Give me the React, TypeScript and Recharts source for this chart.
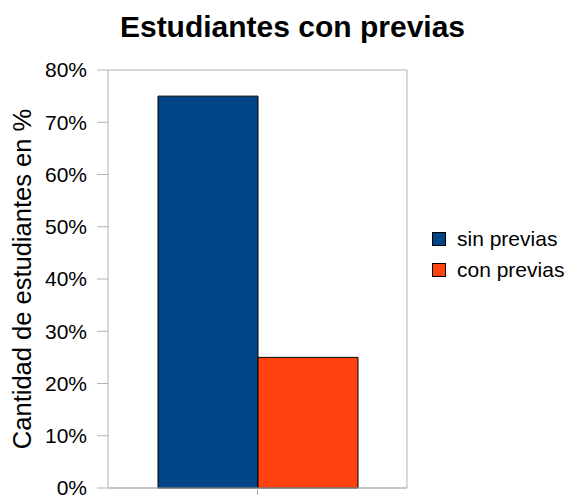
import { BarChart, Bar, XAxis, YAxis, CartesianGrid } from 'recharts';

const categories = [''];
const sinPrevias = [75];
const conPrevias = [25];
const yTicks = [0, 10, 20, 30, 40, 50, 60, 70, 80];
const seriesNames = ['sin previas', 'con previas'];
const seriesColors = ['#004586', '#ff420e'];

const data = categories.map((c, i) => ({ name: c, sin: sinPrevias[i], con: conPrevias[i] }));

const FONT = '"Liberation Sans", Arial, sans-serif';
const GRID = '#b3b3b3';

function YLabel(props: any) {
  const vb = props.viewBox || {};
  const cx = 22;
  const cy = (vb.y ?? 70) + (vb.height ?? 418) / 2;
  return (
    <text
      x={cx}
      y={cy}
      transform={`rotate(-90 ${cx} ${cy})`}
      textAnchor="middle"
      dominantBaseline="central"
      fontFamily={FONT}
      fontSize={25.5}
      fill="#000"
    >
      Cantidad de estudiantes en %
    </text>
  );
}

export default function App() {
  return (
    <div style={{ position: 'relative', width: 571, height: 496, background: '#fff', fontFamily: FONT }}>
      <style>{'body{margin:0}'}</style>
      <div
        style={{
          position: 'absolute',
          left: 0,
          width: 585,
          top: 10,
          textAlign: 'center',
          fontSize: 30,
          fontWeight: 'bold',
          lineHeight: '34px',
        }}
      >
        Estudiantes con previas
      </div>
      <BarChart
        width={571}
        height={496}
        data={data}
        margin={{ top: 70, right: 0, bottom: 0, left: 0 }}
        barCategoryGap={50}
        barGap={0}
      >
        <CartesianGrid stroke={GRID} vertical={false} />
        <XAxis
          dataKey="name"
          height={8}
          stroke={GRID}
          tick={() => <g />}
          tickSize={7}
          tickLine={{ stroke: GRID }}
        />
        <YAxis
          yAxisId="left"
          width={108}
          domain={[0, 80]}
          ticks={yTicks}
          stroke={GRID}
          tickSize={11}
          tickMargin={10}
          tick={{ fill: '#000', fontSize: 21, fontFamily: FONT }}
          tickFormatter={(v: number) => `${v}%`}
          interval={0}
          label={<YLabel />}
        />
        <YAxis
          yAxisId="right"
          orientation="right"
          width={164}
          domain={[0, 80]}
          stroke={GRID}
          tick={false}
          tickLine={false}
        />
        <Bar yAxisId="left" dataKey="sin" name={seriesNames[0]} fill={seriesColors[0]} stroke="#000" strokeWidth={1} isAnimationActive={false} />
        <Bar yAxisId="left" dataKey="con" name={seriesNames[1]} fill={seriesColors[1]} stroke="#000" strokeWidth={1} isAnimationActive={false} />
      </BarChart>
      {seriesNames.map((n, i) => (
        <div key={n} style={{ position: 'absolute', left: 432, top: 231 + i * 31, height: 15, display: 'flex', alignItems: 'center' }}>
          <div style={{ width: 14, height: 14, background: seriesColors[i], border: '1px solid #000', boxSizing: 'border-box' }} />
          <span style={{ marginLeft: 11, fontSize: 21, lineHeight: '15px', color: '#000' }}>{n}</span>
        </div>
      ))}
    </div>
  );
}
